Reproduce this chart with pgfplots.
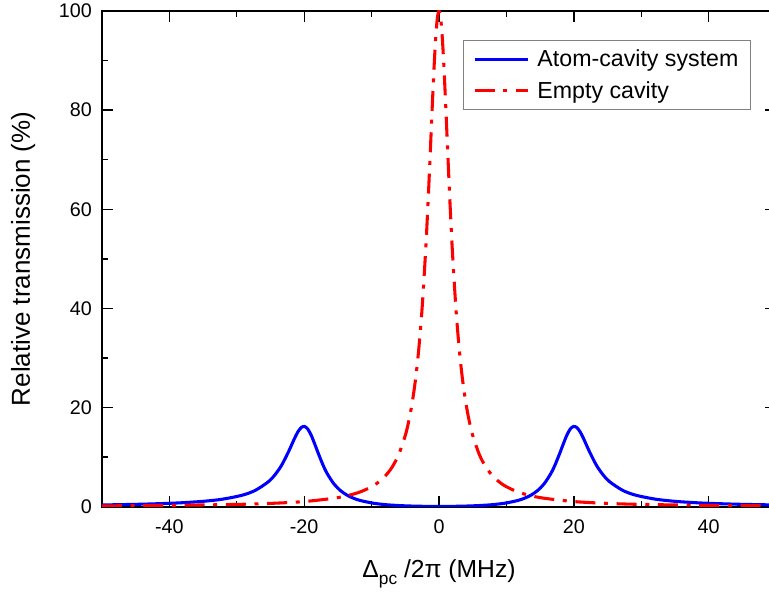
\documentclass[border=0pt]{standalone}
\usepackage{pgfplots}
\pgfplotsset{compat=1.18}
\usepackage{fontspec}
\setmainfont{Liberation Sans}
\begin{document}
\begin{tikzpicture}
\begin{axis}[
  scale only axis, width=505.9pt, height=372pt,
  xmin=-50, xmax=50, ymin=0, ymax=100,
  xtick={-40,-20,0,20,40}, ytick={0,20,40,60,80,100},
  minor xtick={-50,-30,-10,10,30,50}, minor ytick={10,30,50,70,90},
  tick align=inside, major tick length=8pt, minor tick length=4.5pt,
  every tick/.style={black, line width=1pt},
  axis line style={line width=1.5pt},
  /pgf/number format/assume math mode=true,
  ticklabel style={font=\fontsize{14.8}{17}\selectfont},
  xticklabel style={yshift=-6pt},
  yticklabel style={xshift=-4pt},
  xlabel={Δ\raisebox{-0.55ex}{\fontsize{13}{15}\selectfont pc} /2π (MHz)},
  ylabel={Relative transmission (\%)},
  every axis x label/.style={at={(axis description cs:0.5,-0.135)}, anchor=center, font=\fontsize{18.5}{21}\selectfont},
  every axis y label/.style={at={(axis description cs:-0.117,0.5)}, anchor=center, rotate=90, font=\fontsize{19.5}{22}\selectfont},
  legend style={at={(0.536,0.9415)}, anchor=north west, draw=gray, line width=0.75pt,
    font=\fontsize{17.4}{19}\selectfont, inner xsep=7pt, inner ysep=5pt, row sep=5.5pt},
  legend cell align=left,
  legend image code/.code={\draw[#1] (0pt,0pt) -- (40pt,0pt); \path (44pt,0pt);},
]
\addplot[blue, line width=2.3pt, smooth] coordinates {
(-50,0.36)(-48.65,0.381)(-43.79,0.516)(-38.92,0.746)(-35.03,1.08)(-32.11,1.52)(-29.19,2.32)(-27.24,3.30)(-25.3,5.05)(-24.33,6.44)(-23.35,8.36)(-22.38,10.93)(-21.89,12.38)(-21.41,13.84)(-20.92,15.13)(-20.43,15.98)(-19.95,16.19)(-19.46,15.65)(-18.97,14.45)(-18.49,12.84)(-18.0,11.09)(-17.51,9.40)(-17.03,7.87)(-16.54,6.57)(-15.57,4.57)(-14.6,3.23)(-13.62,2.31)(-12.65,1.69)(-11.68,1.25)(-9.73,0.699)(-7.78,0.397)(-5.84,0.224)(-3.89,0.124)(-1.95,0.072)
(0,0.056)
(1.95,0.072)(3.89,0.124)(5.84,0.224)(7.78,0.397)(9.73,0.699)(11.68,1.25)(12.65,1.69)(13.62,2.31)(14.6,3.23)(15.57,4.57)(16.54,6.57)(17.03,7.87)(17.51,9.40)(18.0,11.09)(18.49,12.84)(18.97,14.45)(19.46,15.65)(19.95,16.19)(20.43,15.98)(20.92,15.13)(21.41,13.84)(21.89,12.38)(22.38,10.93)(23.35,8.36)(24.33,6.44)(25.3,5.05)(27.24,3.30)(29.19,2.32)(32.11,1.52)(35.03,1.08)(38.92,0.746)(43.79,0.516)(48.65,0.381)(50,0.36)
};
\addlegendentry{Atom-cavity system}
\addplot[red, line width=2.3pt, smooth, dash pattern=on 15pt off 6.5pt on 3pt off 6.5pt] coordinates {
(-50,0.168)(-40,0.262)(-30,0.464)(-25,0.667)(-20,1.04)(-15,1.83)(-12,2.83)(-10,4.03)(-9,4.93)(-8,6.16)(-7,7.89)(-6,10.45)(-5,14.38)(-4.5,17.18)(-4,20.79)(-3.5,25.53)(-3,31.82)(-2.5,40.19)(-2,51.22)(-1.75,57.83)(-1.5,65.12)(-1.25,72.89)(-1,80.77)(-0.75,88.19)(-0.5,94.38)(-0.25,98.53)
(0,100)
(0.25,98.53)(0.5,94.38)(0.75,88.19)(1,80.77)(1.25,72.89)(1.5,65.12)(1.75,57.83)(2,51.22)(2.5,40.19)(3,31.82)(3.5,25.53)(4,20.79)(4.5,17.18)(5,14.38)(6,10.45)(7,7.89)(8,6.16)(9,4.93)(10,4.03)(12,2.83)(15,1.83)(20,1.04)(25,0.667)(30,0.464)(40,0.262)(50,0.168)
};
\addlegendentry{Empty cavity}
\end{axis}
\pgfresetboundingbox
\useasboundingbox (-76.5pt,-67.5pt) rectangle (500.6pt,380.25pt);
\end{tikzpicture}
\end{document}
